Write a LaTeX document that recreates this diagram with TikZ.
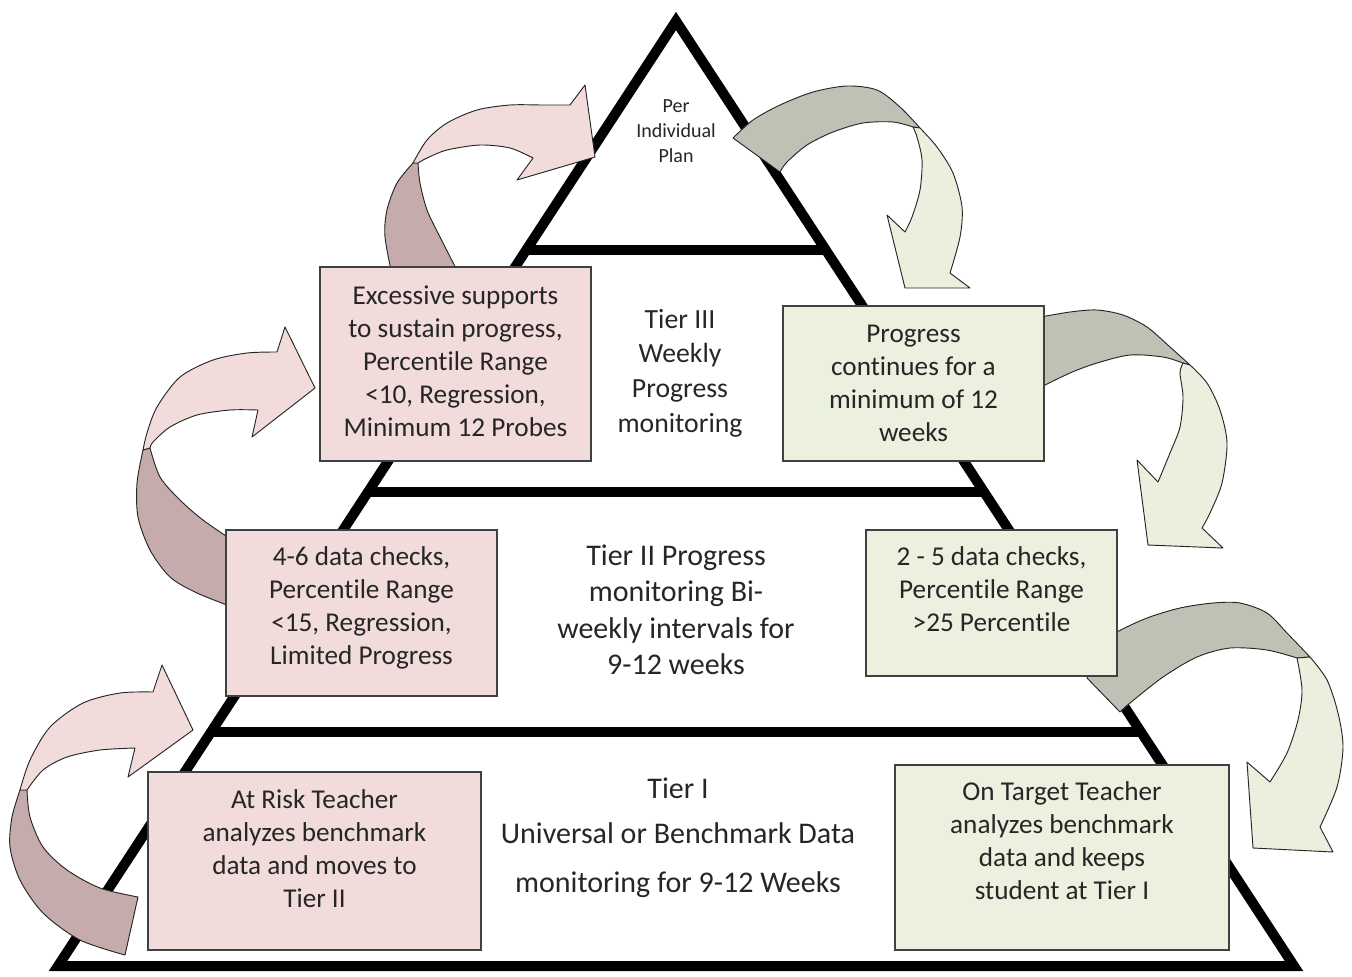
\documentclass[tikz,border=0pt]{standalone}
\usepackage{fontspec}
\setmainfont{Carlito}[Ligatures=NoCommon]
\usetikzlibrary{fit}
\definecolor{pinkL}{HTML}{F2DCDB}
\definecolor{pinkD}{HTML}{C5ABAC}
\definecolor{greenL}{HTML}{EBEFDE}
\definecolor{greenD}{HTML}{BEC2B4}
\definecolor{greenBox}{HTML}{EBF1DE}
\definecolor{txtc}{HTML}{262626}
\begin{document}
\begin{tikzpicture}[x=0.75pt,y=-0.75pt,
  pyr/.style={line width=7.5pt, draw=black, line join=miter},
  arrow edge/.style={draw=black!85, line width=0.7pt, line join=round},
  pinkLight/.style={arrow edge, fill=pinkL},
  pinkDark/.style={arrow edge, fill=pinkD},
  greenLight/.style={arrow edge, fill=greenL},
  greenDark/.style={arrow edge, fill=greenD},
  boxbase/.style={draw=black!75, line width=0.9pt, inner sep=0pt},
  pbox/.style={boxbase, fill=pinkL},
  gbox/.style={boxbase, fill=greenBox},
  tx/.style={inner sep=0pt, align=center, anchor=north, text=txtc},
  fbig/.style={font=\fontsize{20.4}{24.75}\selectfont, yshift=17.33pt},
  fsmall/.style={font=\fontsize{15}{18.75}\selectfont, yshift=13.1pt},
  ftiii/.style={font=\fontsize{20.8}{26}\selectfont, yshift=18.2pt},
  ftii/.style={font=\fontsize{22.5}{27.4}\selectfont, yshift=19.2pt},
  fti/.style={font=\fontsize{22.5}{27}\selectfont, yshift=18.9pt}
]
\useasboundingbox (0,0) rectangle (1352,976);
\fill[white] (0,0) rectangle (1352,976);

% pyramid
\draw[pyr] (676,21) -- (1294,966) -- (58,966) -- cycle;
\draw[line width=7.5pt] (525.7,250) -- (826.3,250);
\draw[line width=7.5pt] (367.6,492) -- (984.4,492);
\draw[line width=7.5pt] (210.9,732) -- (1141.1,732);

% arrow 1: Tier I -> Tier II (left bottom)
\path[pinkDark] plot[smooth] coordinates {(125,955) (80,940) (43,913) (20,880) (10,847) (12,817) (20,790)}
  -- plot[smooth] coordinates {(27,790) (30,817) (43,847) (67,870) (100,888) (138,897)} -- cycle;
\path[pinkLight] plot[smooth] coordinates {(20,790) (30,760) (50,727) (83,703) (120,693) (153,692)}
  -- (162,665) -- (193,730) -- (128,777) -- (135,748)
  -- plot[smooth] coordinates {(135,748) (100,750) (67,757) (43,770) (27,790)} -- cycle;

% arrow 2: Tier II -> Tier III (left middle)
\path[pinkDark] plot[smooth] coordinates {(235,608) (197,593) (170,577) (150,550) (138,517) (137,483) (143,450)}
  -- plot[smooth] coordinates {(150,448) (160,477) (180,500) (203,520) (235,542)} -- cycle;
\path[pinkLight] plot[smooth] coordinates {(143,450) (147,433) (157,407) (180,377) (213,360) (247,353) (277,352)}
  -- (285,327) -- (315,388) -- (252,437) -- (258,410)
  -- plot[smooth] coordinates {(258,410) (230,410) (197,415) (170,427) (153,442) (150,448)} -- cycle;

% arrow 3: Tier III -> apex (top left)
\path[pinkDark] plot[smooth] coordinates {(393,280) (385,237) (387,210) (397,183) (413,163)}
  -- plot[smooth] coordinates {(418,163) (420,183) (427,210) (440,237) (462,280)} -- cycle;
\path[pinkLight] plot[smooth] coordinates {(413,163) (427,140) (447,123) (477,110) (510,105) (543,105) (570,105)}
  -- (585,85) -- (595,157) -- (517,180) -- (533,158)
  -- plot[smooth] coordinates {(533,158) (510,148) (480,145) (447,150) (427,158) (418,163)} -- cycle;

% arrow 4: apex -> Tier III (top right)
\path[greenDark] plot[smooth] coordinates {(733,138) (753,120) (780,105) (813,92) (847,86) (877,90) (900,107) (920,128)}
  -- plot[smooth] coordinates {(913,127) (893,122) (863,123) (833,132) (807,145) (787,162) (780,172)} -- cycle;
\path[greenLight] plot[smooth] coordinates {(920,128) (937,147) (953,173) (962,207) (960,237) (950,273)}
  -- (970,288) -- (905,288) -- (887,215) -- (905,232)
  -- plot[smooth] coordinates {(905,232) (912,217) (920,190) (922,160) (917,137) (913,127)} -- cycle;

% arrow 5: Tier III -> Tier II (right middle)
\path[greenDark] plot[smooth] coordinates {(1035,318) (1070,312) (1097,310) (1123,315) (1147,327) (1170,347) (1190,365)}
  -- plot[smooth] coordinates {(1183,363) (1163,357) (1130,355) (1097,363) (1070,373) (1035,390)} -- cycle;
\path[greenLight] plot[smooth] coordinates {(1190,365) (1207,383) (1220,410) (1227,443) (1222,483) (1210,513) (1202,528)}
  -- (1223,548) -- (1148,545) -- (1137,460) -- (1158,482)
  -- plot[smooth] coordinates {(1158,482) (1170,453) (1180,427) (1183,397) (1180,373) (1183,363)} -- cycle;

% arrow 6: Tier II -> Tier I (right bottom)
\path[greenDark] (1087,678) -- (1100,645)
  -- plot[smooth] coordinates {(1100,645) (1117,632) (1147,618) (1180,608) (1213,603) (1240,603) (1267,613) (1287,633) (1310,657)}
  -- plot[smooth] coordinates {(1297,658) (1267,650) (1230,648) (1197,657) (1163,677) (1130,703) (1120,712)} -- cycle;
\path[greenLight] plot[smooth] coordinates {(1310,657) (1327,680) (1338,713) (1343,747) (1337,787) (1320,827)}
  -- (1333,852) -- (1253,848) -- (1247,762) -- (1270,782)
  -- plot[smooth] coordinates {(1270,782) (1287,753) (1298,720) (1302,690) (1297,658)} -- cycle;

% boxes
\node[pbox, fit={(320,267) (591,461)}] (A) {};
\node[gbox, fit={(783,306) (1044,461)}] (B) {};
\node[pbox, fit={(226,530) (497,696)}] (C) {};
\node[gbox, fit={(866,530) (1117,676)}] (D) {};
\node[pbox, fit={(148,772) (481,950)}] (E) {};
\node[gbox, fit={(895,765) (1229,950)}] (F) {};

% box texts
\node[tx,fbig] (tA) at (455.5,304) {\strut Excessive supports\\to sustain progress,\\Percentile Range\\<10, Regression,\\Minimum 12 Probes};
\node[tx,fbig] (tB) at (913.5,342) {\strut Progress\\continues for a\\minimum of 12\\weeks};
\node[tx,fbig] (tC) at (361.5,565) {\strut 4-6 data checks,\\Percentile Range\\<15, Regression,\\Limited Progress};
\node[tx,fbig] (tD) at (991.5,565) {\strut 2 - 5 data checks,\\Percentile Range\\>25 Percentile};
\node[tx,fbig] (tE) at (314.5,808) {\strut At Risk Teacher\\analyzes benchmark\\data and moves to\\Tier II};
\node[tx,fbig] (tF) at (1062,800) {\strut On Target Teacher\\analyzes benchmark\\data and keeps\\student at Tier I};

% tier texts
\node[tx,fsmall] (plan) at (676,112) {\strut Per\\Individual\\Plan};
\node[tx,ftiii] (t3) at (680,328) {\strut Tier III\\Weekly\\Progress\\monitoring};
\node[tx,ftii] (t2) at (676,565) {\strut Tier II Progress\\monitoring Bi-\\weekly intervals for\\9-12 weeks};
\node[tx,fti] (t1) at (678,798) {\strut Tier I\\[6.75pt]Universal or Benchmark Data\\[9.75pt]monitoring for 9-12 Weeks};
\end{tikzpicture}
\end{document}
